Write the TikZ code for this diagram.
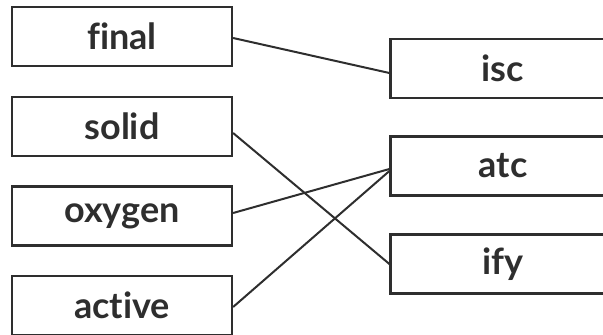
\documentclass[tikz,border=0pt]{standalone}
\usepackage{fontspec}
\setmainfont{Lato}[Ligatures=CommonOff]
\definecolor{inkgray}{HTML}{2E2E2E}
\tikzset{
	wordbox/.style={draw=inkgray, line width=2.2pt, minimum height=59pt, inner sep=0pt,
		font=\fontsize{36}{40}\selectfont\bfseries, text=inkgray},
	leftbox/.style={wordbox, minimum width=220pt},
	rightbox/.style={wordbox, minimum width=225pt},
	match/.style={draw=inkgray, line width=2pt}
}
\begin{document}
	\begin{tikzpicture}[x=1pt, y=-1pt]
		
		\useasboundingbox (0,0) rectangle (603,335);
		\clip (0,0) rectangle (603,335);
		
		% word stems
		\node[leftbox] (final)  at (122,36.5)  {final};
		\node[leftbox] (solid)  at (122,126.5) {solid};
		\node[leftbox] (oxygen) at (122,216)   {oxygen};
		\node[leftbox] (active) at (122,305.5) {active};
		
		% suffixes
		\node[rightbox] (isc) at (503,68.5) {isc};
		\node[rightbox] (atc) at (503,166)  {atc};
		\node[rightbox] (ify) at (503,264)  {ify};
		
		% matching lines
		\draw[match] ([yshift=-1.5pt]final.east) -- ([yshift=-4.5pt]isc.west);
		\draw[match] ([yshift=-6.5pt]solid.east) -- (ify.west);
		\draw[match] ([yshift=3pt]oxygen.east) -- ([yshift=-3pt]atc.west);
		\draw[match] ([yshift=-1.5pt]active.east) -- ([yshift=-5pt]atc.west);
		
	\end{tikzpicture}
\end{document}
